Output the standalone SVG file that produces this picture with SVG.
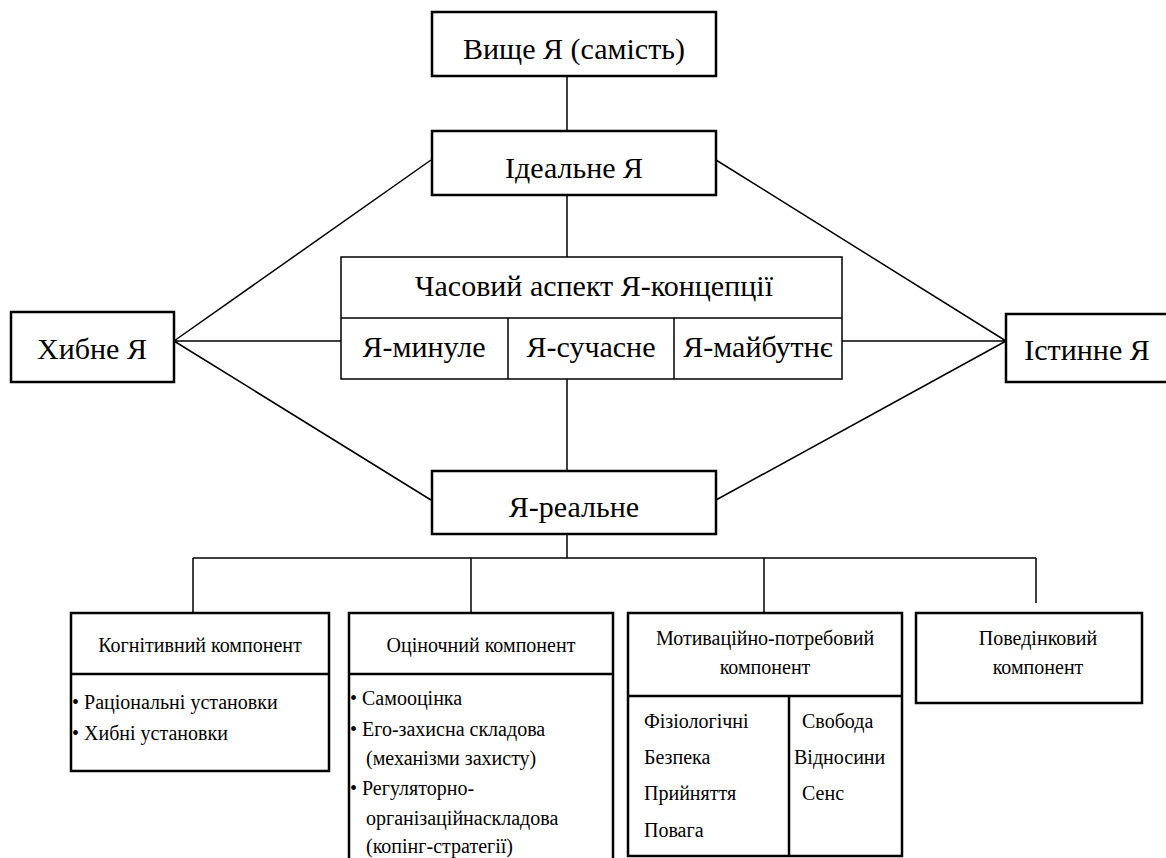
<svg xmlns="http://www.w3.org/2000/svg" width="1166" height="858" viewBox="0 0 1166 858" font-family="Liberation Serif, serif">
<rect width="1166" height="858" fill="#fff"/>
<g id="connectors" fill="none" stroke="#000" stroke-width="1.5">
<path d="M567,76V131M567,195V257M567,379V471M567,534V558M193,558H1036M193,558V613M471,558V613M764,558V613M1036,558V603"/>
<path d="M174,341L431,160M174,341L431,500M174,341H341M1006,341L716,160M1006,341L716,500M842,341H1006"/>
</g>
<g font-family="Liberation Serif" font-size="30" text-anchor="middle" fill="#000">
<g id="vyshche"><rect fill="#fff" stroke="#000" stroke-width="2.5" x="432" y="12" width="284" height="64"/><text x="574" y="59">Вище Я (самість)</text></g>
<g id="idealne"><rect fill="#fff" stroke="#000" stroke-width="2.5" x="432" y="131" width="284" height="64"/><text x="574" y="178">Ідеальне Я</text></g>
<g id="chasovyi"><rect fill="#fff" stroke="#000" stroke-width="1.5" x="341" y="257" width="501" height="122"/><path fill="none" stroke="#000" stroke-width="1.5" d="M341,318H842M508,318V379M674,318V379"/>
<text x="594" y="296">Часовий аспект Я-концепції</text>
<text x="424" y="357">Я-минуле</text>
<text x="591" y="357">Я-сучасне</text>
<text x="758" y="357">Я-майбутнє</text></g>
<g id="khybne"><rect fill="#fff" stroke="#000" stroke-width="2.5" x="11" y="312" width="163" height="70"/><text x="92" y="359">Хибне Я</text></g>
<g id="istynne"><rect fill="#fff" stroke="#000" stroke-width="2.5" x="1006" y="314" width="162" height="68"/><text x="1087" y="360">Істинне Я</text></g>
<g id="realne"><rect fill="#fff" stroke="#000" stroke-width="2.5" x="432" y="471" width="284" height="63"/><text x="574" y="517">Я-реальне</text></g>
</g>
<g font-family="Liberation Serif" font-size="20" fill="#000">
<g id="kognityvnyi"><rect fill="#fff" stroke="#000" stroke-width="2.5" x="71" y="613" width="258" height="158"/><path stroke="#000" stroke-width="2.5" d="M71,674H329"/>
<text text-anchor="middle" x="200" y="652">Когнітивний компонент</text>
<text x="72" y="709">• Раціональні установки</text>
<text x="72" y="740">• Хибні установки</text></g>
<g id="otsinochnyi"><rect fill="#fff" stroke="#000" stroke-width="2.5" x="349" y="613" width="264" height="260"/><path stroke="#000" stroke-width="2.5" d="M349,674H613"/>
<text text-anchor="middle" x="481" y="652">Оціночний компонент</text>
<text x="350" y="705">• Самооцінка</text>
<text x="350" y="736">• Его-захисна складова</text>
<text x="366" y="765">(механізми захисту)</text>
<text x="350" y="795">• Регуляторно-</text>
<text x="366" y="825">організаційнаскладова</text>
<text x="366" y="853">(копінг-стратегії)</text></g>
<g id="motyvatsiino"><rect fill="#fff" stroke="#000" stroke-width="2.5" x="628" y="613" width="274" height="243"/><path fill="none" stroke="#000" stroke-width="2.5" d="M628,696H902M789,696V856"/>
<text text-anchor="middle" x="765" y="645">Мотиваційно-потребовий</text>
<text text-anchor="middle" x="765" y="674">компонент</text>
<text x="644" y="728">Фізіологічні</text>
<text x="644" y="764">Безпека</text>
<text x="644" y="800">Прийняття</text>
<text x="644" y="837">Повага</text>
<text x="802" y="728">Свобода</text>
<text x="794" y="764">Відносини</text>
<text x="802" y="800">Сенс</text></g>
<g id="povedinkovyi"><rect fill="#fff" stroke="#000" stroke-width="2.5" x="916" y="613" width="226" height="90"/>
<text text-anchor="middle" x="1038" y="645">Поведінковий</text>
<text text-anchor="middle" x="1038" y="674">компонент</text></g>
</g>
</svg>
